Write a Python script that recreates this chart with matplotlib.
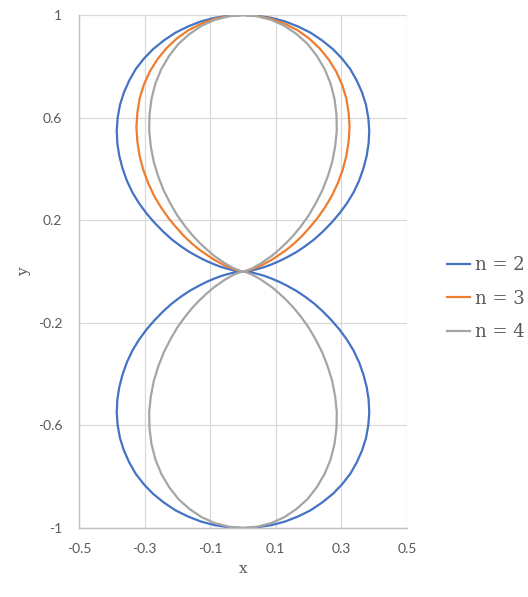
import numpy as np
import matplotlib
matplotlib.use("Agg")
import matplotlib.pyplot as plt

# one quarter of each curve (first quadrant)
x_n2 = [0, 0.002, 0.008, 0.017, 0.030, 0.046, 0.065, 0.086, 0.110, 0.135,
        0.162, 0.189, 0.217, 0.243, 0.269, 0.294, 0.317, 0.337, 0.354, 0.367,
        0.377, 0.383, 0.385, 0.382, 0.375, 0.363, 0.347, 0.327, 0.302, 0.274,
        0.241, 0.206, 0.168, 0.128, 0.086, 0.044, 0]
y_n2 = [0, 0.000, 0.001, 0.002, 0.005, 0.010, 0.017, 0.027, 0.040, 0.056,
        0.075, 0.098, 0.125, 0.155, 0.189, 0.226, 0.266, 0.308, 0.354, 0.401,
        0.450, 0.499, 0.550, 0.600, 0.650, 0.698, 0.744, 0.789, 0.830, 0.867,
        0.901, 0.931, 0.955, 0.975, 0.989, 0.997, 1]

x_n3 = [0, 0.000, 0.001, 0.002, 0.005, 0.010, 0.017, 0.026, 0.038, 0.052,
        0.068, 0.087, 0.108, 0.131, 0.155, 0.179, 0.203, 0.227, 0.250, 0.271,
        0.289, 0.304, 0.315, 0.322, 0.325, 0.322, 0.315, 0.302, 0.284, 0.261,
        0.233, 0.201, 0.166, 0.127, 0.086, 0.043, 0]
y_n3 = [0, 0.000, 0.000, 0.000, 0.001, 0.002, 0.004, 0.008, 0.014, 0.021,
        0.032, 0.045, 0.063, 0.083, 0.108, 0.137, 0.171, 0.208, 0.250, 0.295,
        0.344, 0.396, 0.450, 0.506, 0.563, 0.619, 0.675, 0.729, 0.780, 0.827,
        0.871, 0.909, 0.941, 0.966, 0.985, 0.996, 1]

x_n4 = [0, 0.000, 0.000, 0.000, 0.001, 0.002, 0.004, 0.008, 0.013, 0.020,
        0.029, 0.040, 0.054, 0.070, 0.089, 0.109, 0.131, 0.154, 0.177, 0.200,
        0.221, 0.241, 0.258, 0.272, 0.281, 0.286, 0.285, 0.279, 0.267, 0.249,
        0.225, 0.197, 0.163, 0.126, 0.086, 0.043, 0]
y_n4 = [0, 0.000, 0.000, 0.000, 0.000, 0.000, 0.001, 0.002, 0.005, 0.008,
        0.013, 0.021, 0.031, 0.045, 0.062, 0.084, 0.110, 0.141, 0.177, 0.218,
        0.264, 0.314, 0.369, 0.427, 0.487, 0.549, 0.611, 0.673, 0.733, 0.789,
        0.841, 0.887, 0.926, 0.958, 0.981, 0.995, 1]

labels = ["n = 2", "n = 3", "n = 4"]
colors = ["#4472C4", "#ED7D31", "#A5A5A5"]


def upper(xq, yq):
    # right quarter then its mirror across the y axis
    xq = np.array(xq)
    yq = np.array(yq)
    return np.concatenate([xq, -xq[::-1]]), np.concatenate([yq, yq[::-1]])


def loop(xq, yq):
    xu, yu = upper(xq, yq)
    return np.concatenate([xu, -xu[1:]]), np.concatenate([yu, -yu[1:]])


curves = [loop(x_n2, y_n2), upper(x_n3, y_n3), loop(x_n4, y_n4)]

fig = plt.figure(figsize=(5.28, 5.97), dpi=100)
ax = fig.add_axes([0.1496, 0.1156, 0.6212, 0.8593])

for (cx, cy), lab, col in zip(curves, labels, colors):
    ax.plot(cx, cy, color=col, lw=1.6, label=lab)

ax.set_xlim(-0.5, 0.5)
ax.set_ylim(-1, 1)
ax.set_xticks([-0.5, -0.3, -0.1, 0.1, 0.3, 0.5])
ax.set_xticklabels(["-0.5", "-0.3", "-0.1", "0.1", "0.3", "0.5"])
ax.set_yticks([-1, -0.6, -0.2, 0.2, 0.6, 1])
ax.set_yticklabels(["-1", "-0.6", "-0.2", "0.2", "0.6", "1"])
ax.grid(True, color="#D9D9D9", lw=0.9)
ax.set_axisbelow(True)
for s in ["top", "right"]:
    ax.spines[s].set_visible(False)
for s in ["left", "bottom"]:
    ax.spines[s].set_color("#BFBFBF")
    ax.spines[s].set_linewidth(1.0)
ax.tick_params(length=0, labelsize=10, labelcolor="#595959", pad=12)
for t in ax.get_xticklabels() + ax.get_yticklabels():
    t.set_family("Lato")
ax.tick_params(axis="x", pad=11)

ax.set_xlabel("x", family="DejaVu Serif", fontsize=11, color="#595959", labelpad=5)
ax.set_ylabel("y", family="DejaVu Serif", fontsize=11, color="#595959", labelpad=5)

leg = fig.legend(loc="center left", bbox_to_anchor=(0.815, 0.5), frameon=False,
                 prop={"family": "DejaVu Serif", "size": 13}, handlelength=1.3,
                 handletextpad=0.25, labelspacing=0.85)
for t in leg.get_texts():
    t.set_color("#595959")

fig.savefig("out.png", dpi=100)
